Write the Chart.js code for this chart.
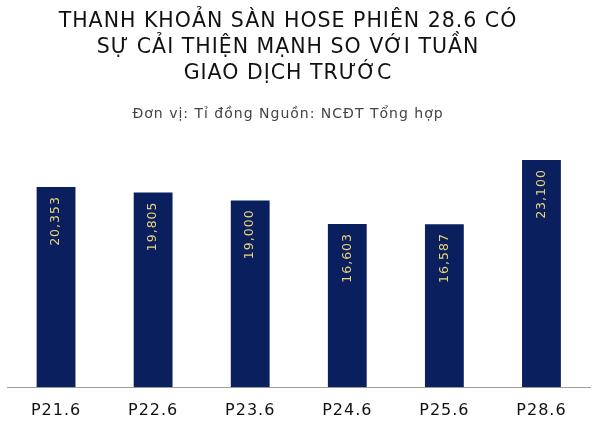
<!DOCTYPE html>
<html>
<head>
<meta charset="utf-8">
<script src="https://cdn.jsdelivr.net/npm/chart.js@4/dist/chart.umd.min.js"></script>
<style>
html,body{margin:0;padding:0;background:#fff;}
#wrap{width:600px;height:425px;position:relative;}
</style>
</head>
<body>
<div id="wrap"><canvas id="c" width="600" height="425"></canvas></div>
<script>
const categories = ["P21.6", "P22.6", "P23.6", "P24.6", "P25.6", "P28.6"];
const values = [20353, 19805, 19000, 16603, 16587, 23100];
const valueLabels = ["20,353", "19,805", "19,000", "16,603", "16,587", "23,100"];
const titleLines = ["THANH KHOẢN SÀN HOSE PHIÊN 28.6 CÓ", "SỰ CẢI THIỆN MẠNH SO VỚI TUẦN", "GIAO DỊCH TRƯỚC"];
const subtitleText = "Đơn vị: Tỉ đồng Nguồn: NCĐT Tổng hợp";

const FONT = "'DejaVu Sans', sans-serif";
const TITLE_SIZE = 20.5, TITLE_LH = 1.29, TITLE_PAD_TOP = 8, TITLE_PAD_BOTTOM = 8;
const SUB_SIZE = 14, SUB_LH = 1.2, SUB_PAD_TOP = 10.5, SUB_PAD_BOTTOM = 18.8;
const TEXT_CENTER_X = 288;

const spacingPlugin = {
  id: 'spacing',
  beforeDraw(chart) { chart.ctx.letterSpacing = '1px'; }
};

// Draws the title/subtitle text (whose space is reserved by the Chart.js title/subtitle boxes)
const headerPlugin = {
  id: 'header',
  afterDraw(chart) {
    const ctx = chart.ctx;
    const tb = chart.titleBlock;
    if (!tb) return;
    ctx.save();
    ctx.letterSpacing = '1px';
    ctx.textAlign = 'center';
    ctx.textBaseline = 'middle';
    const lh = TITLE_SIZE * TITLE_LH;
    ctx.fillStyle = '#111';
    ctx.font = TITLE_SIZE + "px " + FONT;
    titleLines.forEach((line, i) => {
      ctx.fillText(line, TEXT_CENTER_X, tb.top + TITLE_PAD_TOP + lh * i + lh / 2);
    });
    const subTop = tb.bottom + SUB_PAD_TOP;
    ctx.fillStyle = '#444';
    ctx.font = SUB_SIZE + "px " + FONT;
    ctx.fillText(subtitleText, TEXT_CENTER_X, subTop + SUB_SIZE * SUB_LH / 2);
    ctx.restore();
  }
};

const labelPlugin = {
  id: 'barLabels',
  afterDatasetsDraw(chart) {
    const ctx = chart.ctx;
    const meta = chart.getDatasetMeta(0);
    ctx.save();
    ctx.fillStyle = '#ecd27c';
    ctx.font = "12.5px " + FONT;
    meta.data.forEach((bar, i) => {
      ctx.save();
      ctx.translate(bar.x, bar.y + 9);
      ctx.rotate(-Math.PI / 2);
      ctx.textAlign = 'right';
      ctx.textBaseline = 'middle';
      ctx.fillText(valueLabels[i], 0, 0);
      ctx.restore();
    });
    ctx.restore();
  }
};

new Chart(document.getElementById('c'), {
  type: 'bar',
  data: {
    labels: categories,
    datasets: [{
      data: values,
      backgroundColor: '#0a205e',
      barPercentage: 0.4,
      categoryPercentage: 1.0
    }]
  },
  options: {
    responsive: false,
    animation: false,
    layout: { padding: { left: 7.5, right: 10, top: 0, bottom: -9.4 } },
    plugins: {
      legend: { display: false },
      tooltip: { enabled: false },
      title: {
        display: true,
        text: titleLines,
        color: 'rgba(0,0,0,0)',
        font: { family: FONT, size: TITLE_SIZE, weight: 'normal', lineHeight: TITLE_LH },
        padding: { top: TITLE_PAD_TOP, bottom: TITLE_PAD_BOTTOM }
      },
      subtitle: {
        display: true,
        text: subtitleText,
        color: 'rgba(0,0,0,0)',
        font: { family: FONT, size: SUB_SIZE, weight: 'normal', lineHeight: SUB_LH },
        padding: { top: SUB_PAD_TOP, bottom: SUB_PAD_BOTTOM }
      }
    },
    scales: {
      x: {
        grid: { display: false, drawTicks: false },
        border: { display: true, color: '#a0a0a0', width: 1 },
        ticks: {
          color: '#111',
          padding: 14,
          font: { family: FONT, size: 16, lineHeight: 1.2 }
        }
      },
      y: {
        display: false,
        min: 0,
        max: 25000
      }
    }
  },
  plugins: [spacingPlugin, labelPlugin, headerPlugin]
});
</script>
</body>
</html>
